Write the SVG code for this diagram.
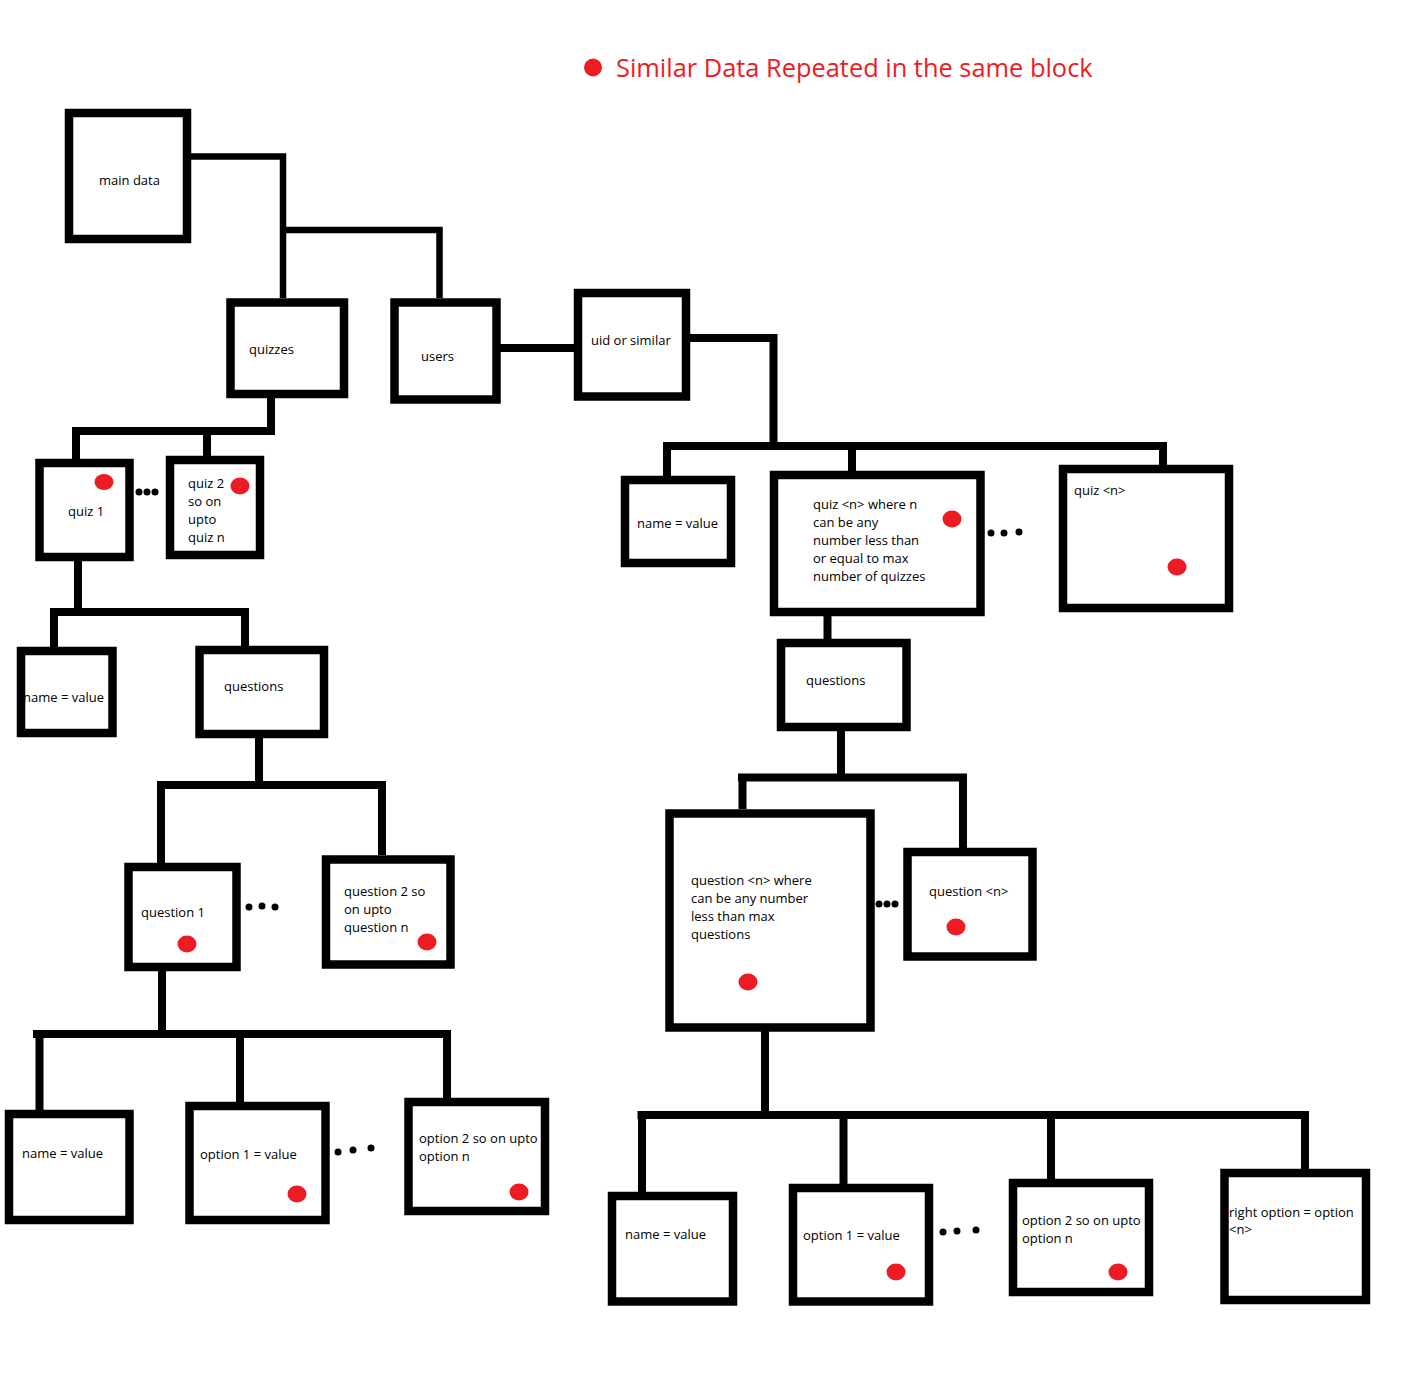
<svg xmlns="http://www.w3.org/2000/svg" width="1404" height="1387" viewBox="0 0 1404 1387">
<style>
.bg{fill:#ffffff}
.box{fill:#ffffff;stroke:#000;stroke-width:8.5;stroke-linejoin:miter}
.conn{fill:none;stroke:#000;stroke-width:8;stroke-linecap:butt;stroke-linejoin:miter}
.thin{stroke-width:6.5}
.t{font-family:"Open Sans","Noto Sans","DejaVu Sans",sans-serif;font-size:13px;fill:#000}
.red{fill:#ED1C24}
.dot{fill:#000}
.legend{font-family:"Open Sans","Noto Sans","DejaVu Sans",sans-serif;font-size:25.4px;fill:#ED1C24}
</style>
<rect class="bg" x="0" y="0" width="1404" height="1387"/>

<g id="legend">
<ellipse class="red" cx="593" cy="67.5" rx="9" ry="9"/>
<text class="legend" x="616" y="77">Similar Data Repeated in the same block</text>
</g>

<g id="connectors">
<path class="conn thin" d="M181 156.5 H283 V298"/>
<path class="conn thin" d="M280 230 H439.5 V298"/>
<path class="conn" d="M500 348 H576"/>
<path class="conn" d="M271 398 V431 M72 431 H275 M76 431 V459 M207 431 V456"/>
<path class="conn" d="M690 338 H773.5 V446 M663 446 H1167 M667 446 V476 M852 446 V471 M1163 446 V465"/>
<path class="conn" d="M78 561 V612 M50 612 H249 M54 612 V647 M245 612 V646"/>
<path class="conn" d="M259 738 V785 M157 785 H386 M161 785 V863 M382 785 V855"/>
<path class="conn" d="M162 971 V1034 M33 1034 H451 M39.5 1034 V1110 M240 1034 V1102 M447 1034 V1098"/>
<path class="conn" d="M827.5 616 V639"/>
<path class="conn" d="M841 731 V777.5 M738 777.5 H967 M742.5 777.5 V809 M963 777.5 V848"/>
<path class="conn" d="M765 1031 V1115 M637.5 1115 H1309 M642 1115 V1192 M843.5 1115 V1184 M1051 1115 V1179 M1305 1115 V1177"/>
</g>

<g id="main-data">
<rect class="box" x="69" y="113" width="118" height="126"/>
<text class="t" x="99" y="185">main data</text>
</g>

<g id="quizzes">
<rect class="box" x="230.5" y="302.5" width="113.5" height="91.5"/>
<text class="t" x="249" y="354">quizzes</text>
</g>

<g id="users">
<rect class="box" x="394.5" y="302.5" width="102" height="97"/>
<text class="t" x="421" y="361">users</text>
</g>

<g id="uid">
<rect class="box" x="578" y="293" width="108" height="103.5"/>
<text class="t" x="591" y="345">uid or similar</text>
</g>

<g id="quiz-1">
<rect class="box" x="39.5" y="463" width="90" height="94"/>
<text class="t" x="68" y="516">quiz 1</text>
<ellipse class="red" cx="104" cy="482" rx="9.5" ry="8"/>
<circle class="dot" cx="139" cy="492" r="3.5"/>
<circle class="dot" cx="147" cy="492" r="3.5"/>
<circle class="dot" cx="155" cy="492" r="3.5"/>
</g>

<g id="quiz-2">
<rect class="box" x="170" y="460" width="90" height="95"/>
<text class="t" x="188" y="488">quiz 2</text>
<text class="t" x="188" y="506">so on</text>
<text class="t" x="188" y="524">upto</text>
<text class="t" x="188" y="542">quiz n</text>
<ellipse class="red" cx="240" cy="486" rx="9.5" ry="8.5"/>
</g>

<g id="quiz1-name">
<text class="t" x="23" y="702">name = value</text>
<rect class="box" x="21" y="651" width="91.5" height="82" style="fill:none"/>
</g>

<g id="quiz1-questions">
<rect class="box" x="199.5" y="650" width="124.5" height="84"/>
<text class="t" x="224" y="691">questions</text>
</g>

<g id="question-1">
<rect class="box" x="128.5" y="867" width="108" height="100"/>
<text class="t" x="141" y="917">question 1</text>
<ellipse class="red" cx="187" cy="944" rx="9.5" ry="8.5"/>
<circle class="dot" cx="249" cy="907" r="3.5"/>
<circle class="dot" cx="262" cy="906" r="3.5"/>
<circle class="dot" cx="275" cy="907" r="3.5"/>
</g>

<g id="question-2">
<rect class="box" x="326" y="859.5" width="124.5" height="105"/>
<text class="t" x="344" y="896">question 2 so</text>
<text class="t" x="344" y="914">on upto</text>
<text class="t" x="344" y="932">question n</text>
<ellipse class="red" cx="427" cy="942" rx="9.5" ry="8.5"/>
</g>

<g id="q1-name">
<rect class="box" x="9" y="1114" width="120.5" height="106"/>
<text class="t" x="22" y="1158">name = value</text>
</g>

<g id="q1-option-1">
<rect class="box" x="189.5" y="1106" width="136" height="114"/>
<text class="t" x="200" y="1159">option 1 = value</text>
<ellipse class="red" cx="297" cy="1194" rx="9.5" ry="8.5"/>
<circle class="dot" cx="338" cy="1152" r="3.5"/>
<circle class="dot" cx="353" cy="1150" r="3.5"/>
<circle class="dot" cx="371" cy="1148" r="3.5"/>
</g>

<g id="q1-option-2">
<rect class="box" x="408.5" y="1102" width="136.5" height="109"/>
<text class="t" x="419" y="1143">option 2 so on upto</text>
<text class="t" x="419" y="1161">option n</text>
<ellipse class="red" cx="519" cy="1192" rx="9.5" ry="8.5"/>
</g>

<g id="user-name">
<rect class="box" x="625" y="480" width="106" height="83"/>
<text class="t" x="637" y="528">name = value</text>
</g>

<g id="user-quiz-n-where">
<rect class="box" x="774" y="475" width="206.5" height="137"/>
<text class="t" x="813" y="509">quiz &lt;n&gt; where n</text>
<text class="t" x="813" y="527">can be any</text>
<text class="t" x="813" y="545">number less than</text>
<text class="t" x="813" y="563">or equal to max</text>
<text class="t" x="813" y="581">number of quizzes</text>
<ellipse class="red" cx="952" cy="519" rx="9.5" ry="8.5"/>
<circle class="dot" cx="991" cy="533" r="3.5"/>
<circle class="dot" cx="1004" cy="533" r="3.5"/>
<circle class="dot" cx="1019" cy="532" r="3.5"/>
</g>

<g id="user-quiz-n">
<rect class="box" x="1063" y="469" width="166" height="139"/>
<text class="t" x="1074" y="495">quiz &lt;n&gt;</text>
<ellipse class="red" cx="1177" cy="567" rx="9.5" ry="8.5"/>
</g>

<g id="user-questions">
<rect class="box" x="781" y="643" width="125.5" height="84"/>
<text class="t" x="806" y="685">questions</text>
</g>

<g id="user-question-n-where">
<rect class="box" x="669.5" y="813.5" width="201" height="214"/>
<text class="t" x="691" y="885">question &lt;n&gt; where</text>
<text class="t" x="691" y="903">can be any number</text>
<text class="t" x="691" y="921">less than max</text>
<text class="t" x="691" y="939">questions</text>
<ellipse class="red" cx="748" cy="982" rx="9.5" ry="8.5"/>
<circle class="dot" cx="879" cy="904" r="3.5"/>
<circle class="dot" cx="887" cy="904" r="3.5"/>
<circle class="dot" cx="895" cy="904" r="3.5"/>
</g>

<g id="user-question-n">
<rect class="box" x="907.5" y="852" width="125" height="104.5"/>
<text class="t" x="929" y="896">question &lt;n&gt;</text>
<ellipse class="red" cx="956" cy="927" rx="9.5" ry="8.5"/>
</g>

<g id="uq-name">
<rect class="box" x="612" y="1196" width="121" height="105.5"/>
<text class="t" x="625" y="1239">name = value</text>
</g>

<g id="uq-option-1">
<rect class="box" x="793" y="1188" width="136" height="113.5"/>
<text class="t" x="803" y="1240">option 1 = value</text>
<ellipse class="red" cx="896" cy="1272" rx="9.5" ry="8.5"/>
<circle class="dot" cx="943" cy="1232" r="3.5"/>
<circle class="dot" cx="957" cy="1231" r="3.5"/>
<circle class="dot" cx="976" cy="1230" r="3.5"/>
</g>

<g id="uq-option-2">
<rect class="box" x="1013" y="1183" width="136" height="109"/>
<text class="t" x="1022" y="1225">option 2 so on upto</text>
<text class="t" x="1022" y="1243">option n</text>
<ellipse class="red" cx="1118" cy="1272" rx="9.5" ry="8.5"/>
</g>

<g id="uq-right-option">
<rect class="box" x="1224.5" y="1173" width="141.5" height="127"/>
<text class="t" x="1229" y="1217">right option = option</text>
<text class="t" x="1229" y="1234">&lt;n&gt;</text>
</g>
</svg>
